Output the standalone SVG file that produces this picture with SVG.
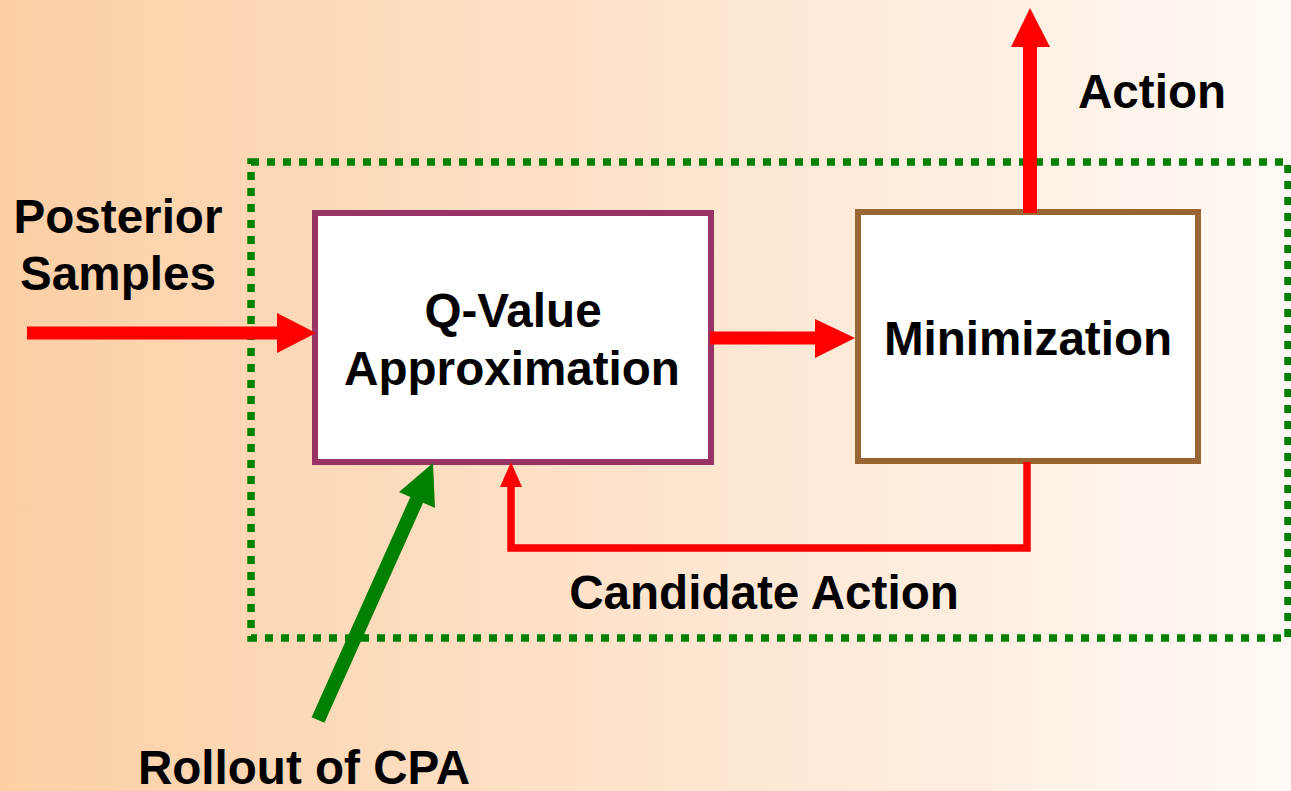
<svg xmlns="http://www.w3.org/2000/svg" width="1291" height="791" viewBox="0 0 1291 791">
  <defs>
    <linearGradient id="bg" x1="0" y1="0" x2="1" y2="0">
      <stop offset="0" stop-color="#FCCFA4"/>
      <stop offset="1" stop-color="#FFF9F5"/>
    </linearGradient>
    <style>
      .lbl { font-family: "Liberation Sans", Arial, sans-serif; font-weight: bold; font-size: 47.6px; fill: #000; text-anchor: middle; }
      .box { fill: #FFFFFF; stroke-width: 6; }
      .red { fill: none; stroke: #FF0000; }
      .redhead { fill: #FF0000; }
    </style>
  </defs>

  <!-- background -->
  <rect x="0" y="0" width="1291" height="791" fill="url(#bg)"/>

  <!-- dotted system boundary -->
  <rect id="boundary" x="251" y="162" width="1037" height="476" fill="none" stroke="#008000" stroke-width="7.5" stroke-dasharray="8 8"/>

  <!-- nodes -->
  <g id="qvalue">
    <rect class="box" x="315" y="213" width="396" height="249" stroke="#993366"/>
    <text class="lbl" x="513" y="327">Q-Value</text>
    <text class="lbl" x="512" y="385">Approximation</text>
  </g>
  <g id="minimization">
    <rect class="box" x="858" y="212" width="340" height="249" stroke="#996633"/>
    <text class="lbl" x="1028" y="355">Minimization</text>
  </g>

  <!-- connectors -->
  <g id="connectors">
    <!-- posterior samples in -->
    <line class="red" x1="27" y1="333" x2="280" y2="333" stroke-width="13"/>
    <polygon class="redhead" points="277,313 316,333 277,353"/>
    <!-- Q-value to minimization -->
    <line class="red" x1="710" y1="338" x2="818" y2="338" stroke-width="13"/>
    <polygon class="redhead" points="815,319 855,338 815,358"/>
    <!-- action out -->
    <line class="red" x1="1030" y1="213" x2="1030" y2="44" stroke-width="14"/>
    <polygon class="redhead" points="1011,47 1030,8 1050,47"/>
    <!-- candidate action feedback -->
    <polyline class="red" points="1027,462 1027,548 511,548 511,485" stroke-width="7.5" stroke-linejoin="miter"/>
    <polygon class="redhead" points="500,487 511,462 522,487"/>
    <!-- rollout of CPA -->
    <line x1="318" y1="720" x2="418" y2="497" stroke="#008000" stroke-width="14"/>
    <polygon fill="#008000" points="433,463 435,508 399,492"/>
  </g>

  <!-- free labels -->
  <g id="labels">
    <text class="lbl" x="118" y="233">Posterior</text>
    <text class="lbl" x="118" y="290">Samples</text>
    <text class="lbl" x="1152" y="108">Action</text>
    <text class="lbl" x="764" y="609">Candidate Action</text>
    <text class="lbl" x="304" y="784">Rollout of CPA</text>
  </g>
</svg>
